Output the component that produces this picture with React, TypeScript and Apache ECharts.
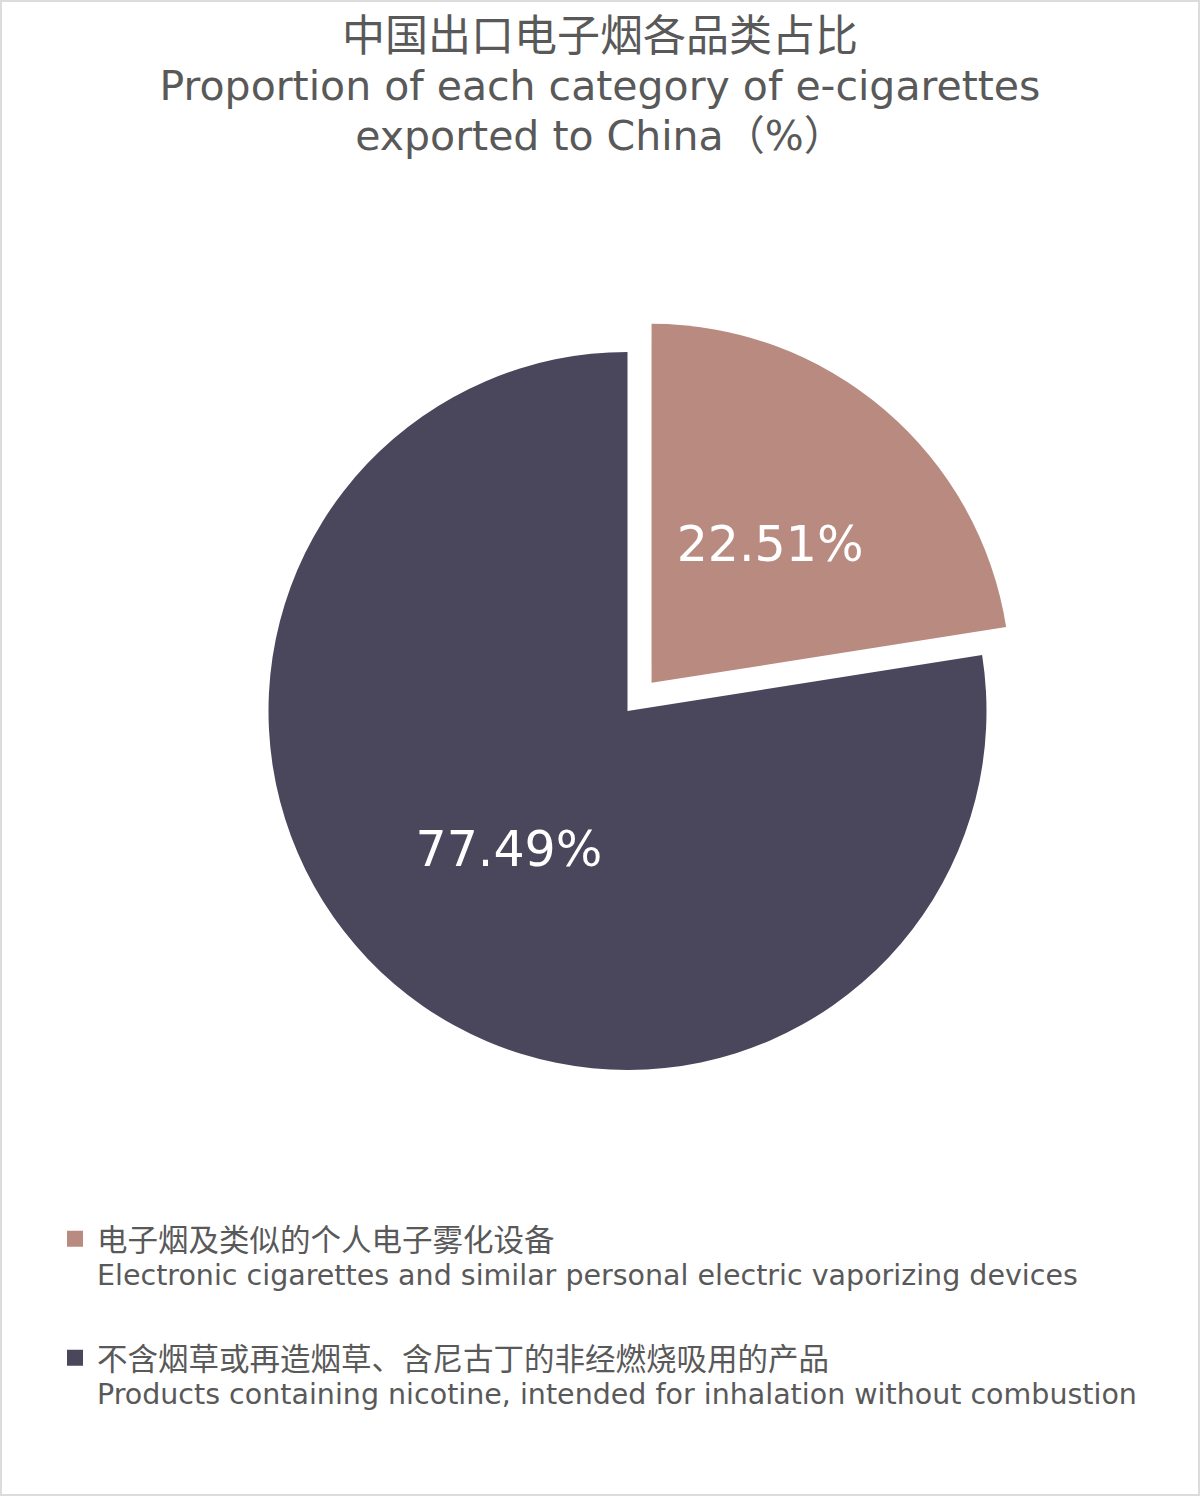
import React, { useEffect, useRef } from "react";
import * as echarts from "echarts";

const titleCn = "中国出口电子烟各品类占比";
const titleEn = ["Proportion of each category of e-cigarettes", "exported to China（%）"];
const namesCn = ["电子烟及类似的个人电子雾化设备", "不含烟草或再造烟草、含尼古丁的非经燃烧吸用的产品"];
const namesEn = [
  "Electronic cigarettes and similar personal electric vaporizing devices",
  "Products containing nicotine, intended for inhalation without combustion",
];
const values = [22.51, 77.49];
const colors = ["#b98a80", "#4a475c"];
const selectedIdx = [true, false];

const FONT = "'DejaVu Sans', 'Noto Sans CJK SC', sans-serif";
const CJK = "'Noto Sans CJK SC', sans-serif";
const GREY = "#595959";

export default function App() {
  const ref = useRef<HTMLDivElement>(null);
  useEffect(() => {
    document.body.style.margin = "0";
    const chart = echarts.init(ref.current!, null, { renderer: "svg" });
    const data = namesCn.map((n, i) => ({
      name: n,
      value: values[i],
      selected: selectedIdx[i],
      itemStyle: { color: colors[i] },
    }));
    chart.setOption({
      animation: false,
      backgroundColor: "#ffffff",
      textStyle: { fontFamily: FONT },
      title: [
        {
          text: titleCn,
          left: 600,
          top: 7,
          padding: 0,
          textAlign: "center",
          textStyle: { fontFamily: CJK, fontSize: 43, lineHeight: 50, fontWeight: "normal", color: GREY },
        },
        {
          text: titleEn.join("\n"),
          left: 600,
          top: 61,
          padding: 0,
          textAlign: "center",
          textStyle: { fontFamily: FONT, fontSize: 41, lineHeight: 50, fontWeight: "normal", color: GREY },
        },
      ],
      graphic: [
        {
          type: "rect",
          shape: { x: 1, y: 1, width: 1198, height: 1494 },
          style: { fill: "none", stroke: "#dcdcdc", lineWidth: 2 },
          silent: true,
        },
      ],
      legend: {
        orient: "vertical",
        left: 67,
        top: 1223,
        padding: 0,
        itemWidth: 16,
        itemHeight: 16,
        itemGap: 52,
        icon: "rect",
        selectedMode: false,
        data: namesCn,
        formatter: (name: string) => {
          const i = namesCn.indexOf(name);
          return "{cn|" + namesCn[i] + "}\n{en|" + namesEn[i] + "}";
        },
        textStyle: {
          fontFamily: FONT,
          color: GREY,
          padding: [37, 0, 0, 9],
          rich: {
            cn: { fontFamily: CJK, fontSize: 30.5, lineHeight: 37, color: GREY },
            en: { fontFamily: FONT, fontSize: 28.5, lineHeight: 38, color: GREY },
          },
        },
      },
      series: [
        {
          type: "pie",
          center: [627.5, 711],
          radius: 359,
          startAngle: 90,
          clockwise: true,
          selectedMode: "single",
          selectedOffset: 37,
          data,
          label: {
            show: true,
            position: "inside",
            formatter: (p: any) => p.value.toFixed(2) + "%",
            color: "#ffffff",
            fontSize: 49,
            fontFamily: FONT,
          },
          labelLine: { show: false },
          emphasis: { disabled: true },
        },
      ],
    });
    return () => chart.dispose();
  }, []);
  return <div ref={ref} style={{ width: 1200, height: 1496 }} />;
}
